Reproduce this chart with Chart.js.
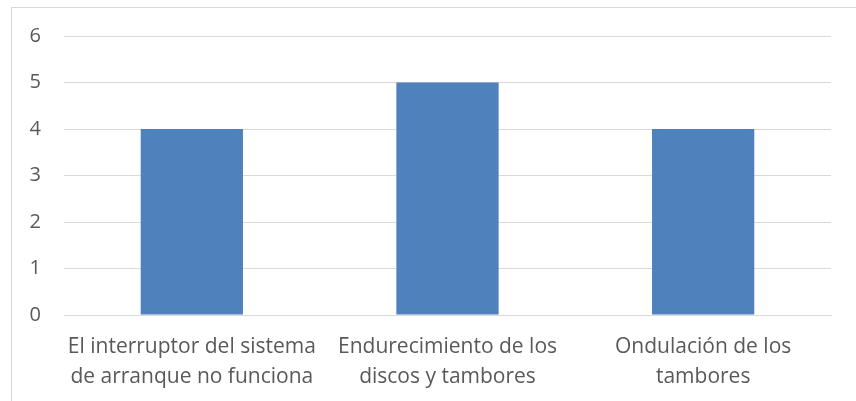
<!DOCTYPE html>
<html>
<head>
<meta charset="utf-8">
<script src="https://cdn.jsdelivr.net/npm/chart.js@4/dist/chart.umd.min.js"></script>
<style>
    html, body { margin: 0; padding: 0; background: #fff; overflow: hidden; }
    #wrap { position: relative; width: 856px; height: 401px; }
    #frame {
        position: absolute; left: 11px; top: 7px;
        width: 900px; height: 450px;
        border: 1px solid #d9d9d9; box-sizing: border-box;
    }
    #chart { position: absolute; left: 0; top: 0; }
</style>
</head>
<body>
<div id="wrap">
    <div id="frame"></div>
    <canvas id="chart" width="856" height="401"></canvas>
</div>
<script>
// categorías (etiquetas en dos líneas)
const categorias = [
    ['El interruptor del sistema', 'de arranque no funciona'],
    ['Endurecimiento de los', 'discos y tambores'],
    ['Ondulación de los', 'tambores']
];
const valores = [4, 5, 4];
const ticksY = [0, 1, 2, 3, 4, 5, 6];

const data = {
    labels: categorias,
    datasets: [{
        label: 'Serie 1',
        data: valores,
        backgroundColor: '#4f81bd',
        borderWidth: 0,
        barPercentage: 0.4,
        categoryPercentage: 1.0
    }]
};

const config = {
    type: 'bar',
    data: data,
    options: {
        responsive: false,
        animation: false,
        layout: {
            padding: { top: 36, right: 25, left: 0, bottom: 0 }
        },
        plugins: {
            legend: { display: false },
            tooltip: { enabled: false }
        },
        scales: {
            x: {
                grid: { display: false, drawTicks: false },
                border: { display: true, color: '#d9d9d9', width: 1 },
                ticks: {
                    color: '#595959',
                    padding: 17,
                    maxRotation: 0,
                    autoSkip: false,
                    font: { family: 'Open Sans', size: 21, lineHeight: 1.43 }
                },
                afterFit: function(scale) { scale.height = 86; }
            },
            y: {
                min: 0,
                max: 6,
                afterBuildTicks: function(scale) {
                    scale.ticks = ticksY.map(function(v) { return { value: v }; });
                },
                grid: { color: '#d9d9d9', lineWidth: 1, drawTicks: false },
                border: { display: false },
                ticks: {
                    color: '#595959',
                    padding: 23,
                    font: { family: 'Open Sans', size: 20 }
                },
                afterFit: function(scale) { scale.width = 64; }
            }
        }
    }
};

const myChart = new Chart(document.getElementById('chart'), config);
</script>
</body>
</html>
